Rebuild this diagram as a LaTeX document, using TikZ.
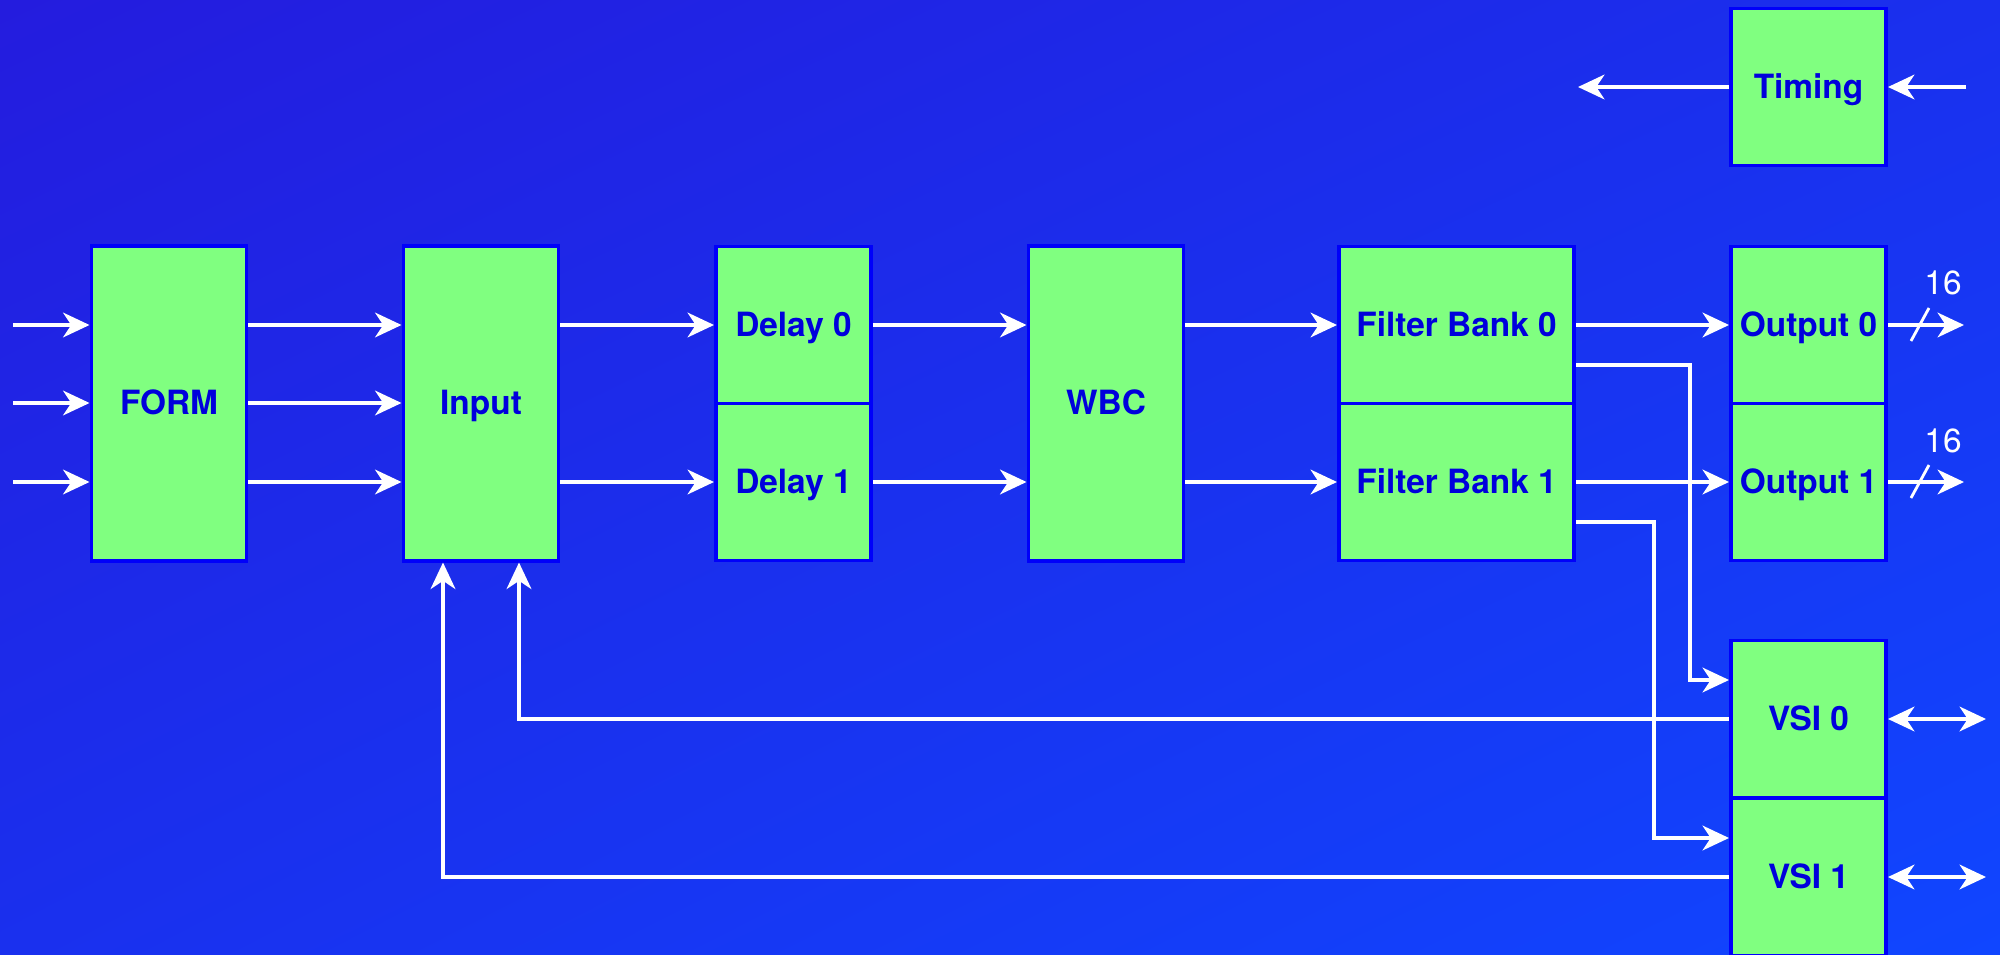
\documentclass[tikz,border=0pt]{standalone}
\usepackage{fontspec}
\setmainfont{TeX Gyre Heros}
\usetikzlibrary{arrows.meta,shadings}
\definecolor{bgTL}{RGB}{36,28,222}
\definecolor{bgBR}{RGB}{16,70,255}
\definecolor{bgMid}{RGB}{26,48,238}
\definecolor{boxgreen}{RGB}{128,255,128}
\definecolor{boxline}{RGB}{0,0,250}
\definecolor{txtblue}{RGB}{0,0,220}
\begin{document}
\begin{tikzpicture}[x=0.01cm, y=-0.01cm,
  blk/.style={draw=boxline, fill=boxgreen, line width=1.1pt, inner sep=0pt,
    minimum width=1.55cm, font=\fontsize{9.5}{11}\selectfont\bfseries, text=txtblue,
    text height=0.73em, text depth=0.08em},
  tall/.style={blk, minimum height=3.14cm},
  half/.style={blk, minimum height=1.57cm},
  wide/.style={minimum width=2.35cm},
  wire/.style={draw=white, line width=1.15pt},
  tip/.tip={Stealth[length=7.5pt,width=7pt,inset=2.3pt]},
  arr/.style={wire, -tip},
  darr/.style={wire, tip-tip},
  lbl/.style={text=white, font=\fontsize{9.5}{11}\selectfont, inner sep=0pt}
]
\useasboundingbox (0,0) rectangle (2000,955);
\shade[upper left=bgTL, lower right=bgBR, upper right=bgMid, lower left=bgMid]
  (0,0) rectangle (2000,955);

% blocks
\node[tall] (form) at (169,403.5) {FORM};
\node[tall] (input) at (481,403.5) {Input};
\node[half] (d0) at (793.5,325) {Delay 0};
\node[half] (d1) at (793.5,482) {Delay 1};
\node[tall] (wbc) at (1106,403.5) {WBC};
\node[half,wide] (fb0) at (1456.5,325) {Filter Bank 0};
\node[half,wide] (fb1) at (1456.5,482) {Filter Bank 1};
\node[half] (o0) at (1808.5,325) {Output 0};
\node[half] (o1) at (1808.5,482) {Output 1};
\node[half] (tim) at (1808.5,87) {Timing};
\node[half] (v0) at (1808.5,719) {VSI 0};
\node[half] (v1) at (1808.5,877) {VSI 1};

% free ends and bends
\coordinate (i1) at (13,325);
\coordinate (i2) at (13,403);
\coordinate (i3) at (13,482);
\coordinate (e0) at (1964,325);
\coordinate (e1) at (1964,482);
\coordinate (t0) at (1578,87);
\coordinate (t1) at (1966,87);
\coordinate (vv0) at (1986,719);
\coordinate (vv1) at (1986,877);
\coordinate (b0) at (1690,365);
\coordinate (c0) at (1690,680);
\coordinate (b1) at (1654,522);
\coordinate (c1) at (1654,838);
\coordinate (f0) at (519,719);
\coordinate (f1) at (443,877);

% inputs to FORM
\draw[arr] (i1) -- (form.west |- i1);
\draw[arr] (i2) -- (form.west |- i2);
\draw[arr] (i3) -- (form.west |- i3);
% FORM -> Input
\draw[arr] (form.east |- i1) -- (input.west |- i1);
\draw[arr] (form.east |- i2) -- (input.west |- i2);
\draw[arr] (form.east |- i3) -- (input.west |- i3);
% Input -> Delay
\draw[arr] (input.east |- d0) -- (d0.west);
\draw[arr] (input.east |- d1) -- (d1.west);
% Delay -> WBC
\draw[arr] (d0.east) -- (wbc.west |- d0);
\draw[arr] (d1.east) -- (wbc.west |- d1);
% WBC -> Filter Bank
\draw[arr] (wbc.east |- fb0) -- (fb0.west);
\draw[arr] (wbc.east |- fb1) -- (fb1.west);
% Filter Bank -> Output
\draw[arr] (fb0.east) -- (o0.west);
\draw[arr] (fb1.east) -- (o1.west);
% Outputs (16 bit)
\draw[arr] (o0.east) -- (e0);
\draw[arr] (o1.east) -- (e1);
\draw[wire, line width=0.8pt] (o0.east) ++(23,16) -- ++(18,-33);
\draw[wire, line width=0.8pt] (o1.east) ++(23,16) -- ++(18,-33);
\node[lbl] (n0) at (1943,283) {16};
\node[lbl] (n1) at (1943,441) {16};
% Filter Bank -> VSI
\draw[arr] (fb0.east |- b0) -- (b0) -- (c0) -- (v0.west |- c0);
\draw[arr] (fb1.east |- b1) -- (b1) -- (c1) -- (v1.west |- c1);
% VSI -> Input feedback
\draw[arr] (v0.west) -- (f0) -- (input.south -| f0);
\draw[arr] (v1.west) -- (f1) -- (input.south -| f1);
% Timing
\draw[arr] (tim.west) -- (t0);
\draw[arr] (t1) -- (tim.east);
% VSI bidirectional
\draw[darr] (v0.east) -- (vv0);
\draw[darr] (v1.east) -- (vv1);
\end{tikzpicture}
\end{document}
